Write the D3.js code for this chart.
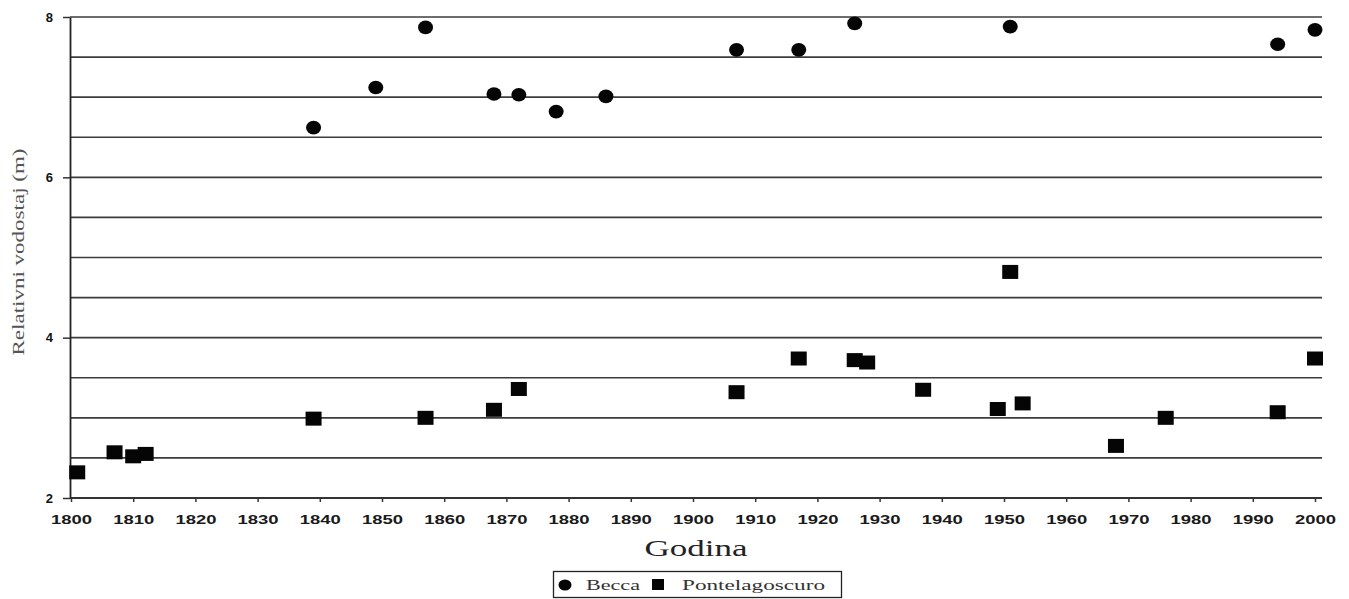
<!DOCTYPE html>
<html lang="hr">
<head>
<meta charset="utf-8">
<title>Relativni vodostaj - Becca / Pontelagoscuro</title>
<script src="https://d3js.org/d3.v7.min.js"></script>
<style>
  body { margin: 0; background: #fff; }
  svg { display: block; }
</style>
</head>
<body>
<script>
// values
var beccaYears  = [1839, 1849, 1857, 1868, 1872, 1878, 1886, 1907, 1917, 1926, 1951, 1994, 2000];
var beccaLevels = [6.62, 7.12, 7.87, 7.04, 7.03, 6.82, 7.01, 7.59, 7.59, 7.92, 7.88, 7.66, 7.84];

var pontYears  = [1801, 1807, 1810, 1812, 1839, 1857, 1868, 1872, 1907, 1917, 1926, 1928, 1937, 1949, 1951, 1953, 1968, 1976, 1994, 2000];
var pontLevels = [2.32, 2.57, 2.52, 2.55, 2.99, 3.00, 3.10, 3.36, 3.32, 3.74, 3.72, 3.69, 3.35, 3.11, 4.82, 3.18, 2.65, 3.00, 3.07, 3.74];

var xTicks = d3.range(1800, 2001, 10);
var yTickLabels = [2, 4, 6, 8];
var seriesNames = ["Becca", "Pontelagoscuro"];

var W = 1349, H = 599;
var svg = d3.select("body").append("svg")
    .attr("width", W)
    .attr("height", H);

var x = d3.scaleLinear().domain([1800, 2000]).range([71, 1315]);
var y = d3.scaleLinear().domain([2, 8]).range([498, 17]);

// horizontal grid lines every 0.5 m
svg.append("g")
  .selectAll("line")
  .data(y.ticks(12))
  .enter().append("line")
    .attr("x1", 70)
    .attr("x2", 1322)
    .attr("y1", function(d) { return y(d); })
    .attr("y2", function(d) { return y(d); })
    .attr("stroke", "#3c3c3c")
    .attr("stroke-width", 1.7);

// x axis
var xAxis = svg.append("g")
    .attr("transform", "translate(0,498)")
    .call(d3.axisBottom(x).tickValues(xTicks).tickSize(4).tickSizeOuter(0).tickFormat(d3.format("d")));
xAxis.select(".domain").attr("stroke", "#222").attr("stroke-width", 1.6)
    .attr("d", "M70,0H1322");
xAxis.selectAll(".tick line").attr("stroke", "#333").attr("stroke-width", 1.5);
xAxis.selectAll(".tick text")
    .attr("y", 17)
    .attr("dy", "0.71em")
    .attr("fill", "#1a1a1a")
    .attr("font-family", "Liberation Sans, Arial, sans-serif")
    .attr("font-weight", "bold")
    .attr("font-size", 13)
    .attr("textLength", 41)
    .attr("lengthAdjust", "spacingAndGlyphs");

// y axis
var yAxis = svg.append("g")
    .attr("transform", "translate(70,0)")
    .call(d3.axisLeft(y).tickValues(yTickLabels).tickSize(7).tickSizeOuter(0).tickFormat(d3.format("d")));
yAxis.select(".domain").attr("stroke", "#222").attr("stroke-width", 1.8);
yAxis.selectAll(".tick line").attr("stroke", "#333").attr("stroke-width", 1.5);
yAxis.selectAll(".tick text")
    .attr("x", -17)
    .attr("fill", "#111")
    .attr("font-family", "Liberation Sans, Arial, sans-serif")
    .attr("font-weight", "bold")
    .attr("font-size", 13);

// axis titles
svg.append("text")
    .attr("transform", "translate(24,252) rotate(-90)")
    .attr("text-anchor", "middle")
    .attr("font-family", "Liberation Serif, Times New Roman, serif")
    .attr("font-size", 16)
    .attr("fill", "#555")
    .attr("textLength", 207)
    .attr("lengthAdjust", "spacingAndGlyphs")
    .text("Relativni vodostaj (m)");

svg.append("text")
    .attr("x", 696)
    .attr("y", 556)
    .attr("text-anchor", "middle")
    .attr("font-family", "Liberation Serif, Times New Roman, serif")
    .attr("font-size", 23)
    .attr("fill", "#222")
    .attr("textLength", 103)
    .attr("lengthAdjust", "spacingAndGlyphs")
    .text("Godina");

// markers
var becca = beccaYears.map(function(d, i) { return {year: d, level: beccaLevels[i]}; });
var pont = pontYears.map(function(d, i) { return {year: d, level: pontLevels[i]}; });

svg.append("g")
  .selectAll("rect")
  .data(pont)
  .enter().append("rect")
    .attr("x", function(d) { return x(d.year) - 8; })
    .attr("y", function(d) { return y(d.level) - 7; })
    .attr("width", 16)
    .attr("height", 14)
    .attr("fill", "#050505");

svg.append("g")
  .selectAll("ellipse")
  .data(becca)
  .enter().append("ellipse")
    .attr("cx", function(d) { return x(d.year); })
    .attr("cy", function(d) { return y(d.level); })
    .attr("rx", 7.5)
    .attr("ry", 6.8)
    .attr("fill", "#050505");

// legend
var legend = svg.append("g");
legend.append("rect")
    .attr("x", 553.5)
    .attr("y", 571.5)
    .attr("width", 288)
    .attr("height", 26)
    .attr("fill", "#fff")
    .attr("stroke", "#222")
    .attr("stroke-width", 1.3);
legend.append("ellipse")
    .attr("cx", 565).attr("cy", 585)
    .attr("rx", 6.5).attr("ry", 5.5)
    .attr("fill", "#050505");
legend.append("rect")
    .attr("x", 652).attr("y", 579)
    .attr("width", 12).attr("height", 11)
    .attr("fill", "#050505");
legend.selectAll("text.lbl")
  .data(seriesNames)
  .enter().append("text")
    .attr("class", "lbl")
    .attr("x", function(d, i) { return i === 0 ? 586 : 682; })
    .attr("y", 590)
    .attr("font-family", "Liberation Serif, Times New Roman, serif")
    .attr("font-size", 14)
    .attr("fill", "#333")
    .attr("textLength", function(d, i) { return i === 0 ? 54 : 143; })
    .attr("lengthAdjust", "spacingAndGlyphs")
    .text(function(d) { return d; });
</script>
</body>
</html>
